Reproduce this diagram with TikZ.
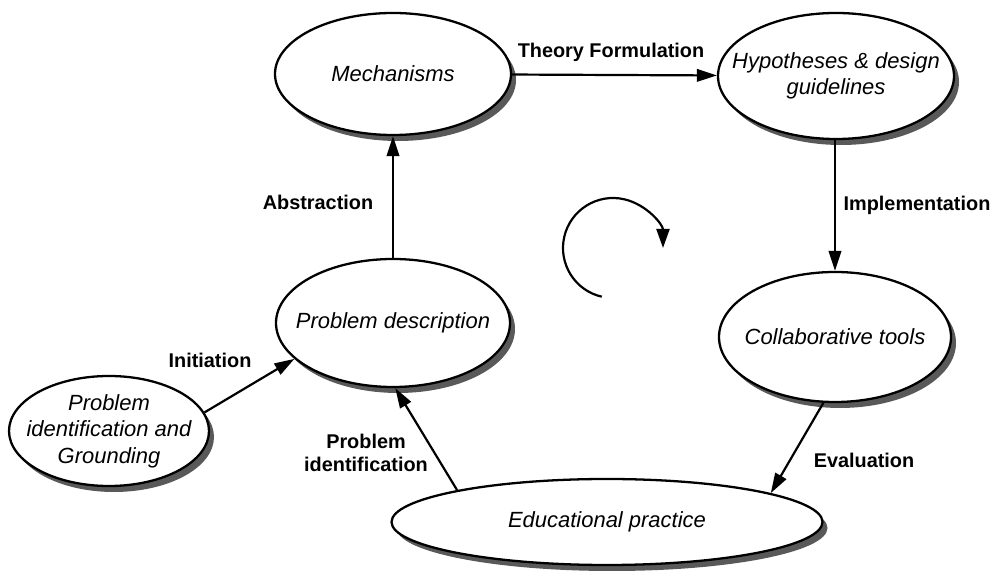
\documentclass[tikz,border=0pt]{standalone}
\usepackage{fontspec}
\setmainfont{Liberation Sans}
\usetikzlibrary{arrows.meta, shapes.geometric, shadows}

\begin{document}
\begin{tikzpicture}[
  stage/.style={ellipse, draw, line width=1.3pt, fill=white, inner sep=0pt,
    drop shadow={shadow xshift=0.1cm, shadow yshift=-0.12cm, fill=black!65, opacity=1}},
  stagetext/.style={font=\fontsize{12.5}{15}\selectfont\itshape, align=center},
  flow/.style={-{Triangle[length=0.4cm, width=0.25cm]}, line width=1.25pt},
  flowlabel/.style={font=\fontsize{11.3}{13.5}\selectfont\bfseries, align=center}
]

\useasboundingbox (0,0) rectangle (20,11.52);

% Stages of the research cycle
\node[stage, minimum width=4.72cm, minimum height=2.44cm] (mech) at (7.86,10.04) {};
\node[stagetext] (mechtxt) at (mech) {Mechanisms};

\node[stage, minimum width=4.72cm, minimum height=2.52cm] (hyp) at (16.72,10.0) {};
\node[stagetext] (hyptxt) at (hyp) {Hypotheses \& design\\guidelines};

\node[stage, minimum width=4.68cm, minimum height=2.56cm] (pd) at (7.86,5.06) {};
\node[stagetext] (pdtxt) at (pd) {Problem description};

\node[stage, minimum width=4.64cm, minimum height=2.6cm] (collab) at (16.70,4.78) {};
\node[stagetext] (collabtxt) at (collab) {Collaborative tools};

\node[stage, minimum width=4.0cm, minimum height=2.2cm] (gr) at (2.18,2.90) {};
\node[stagetext] (grtxt) at (gr) {Problem\\identification and\\Grounding};

\node[stage, minimum width=8.62cm, minimum height=1.72cm] (edu) at (12.14,1.08) {};
\node[stagetext] (edutxt) at (edu) {Educational practice};

% Transitions
\draw[flow] (gr.11) -- (pd.200);
\draw[flow] (pd) -- (mech);
\draw[flow] (mech) -- (hyp);
\draw[flow] (hyp.south -| collab) -- (collab);
\draw[flow] (collab.260) -- (edu.10);
\draw[flow] (edu.168) -- (pd.272);

% Transition labels
\node[flowlabel] (initiation) at (4.20,4.32) {Initiation};
\node[flowlabel] (abstraction) at (6.36,7.48) {Abstraction};
\node[flowlabel] (theory) at (12.22,10.48) {Theory Formulation};
\node[flowlabel] (implementation) at (18.34,7.42) {Implementation};
\node[flowlabel] (evaluation) at (17.28,2.32) {Evaluation};
\node[flowlabel] (probident) at (7.32,2.46) {Problem\\identification};

% Cycle direction
\draw[line width=1.25pt, -{Triangle[length=0.38cm, width=0.26cm]}]
  (12.26,6.56) ++(257:1.0) arc[start angle=257, end angle=0, radius=1.0];

\end{tikzpicture}
\end{document}
